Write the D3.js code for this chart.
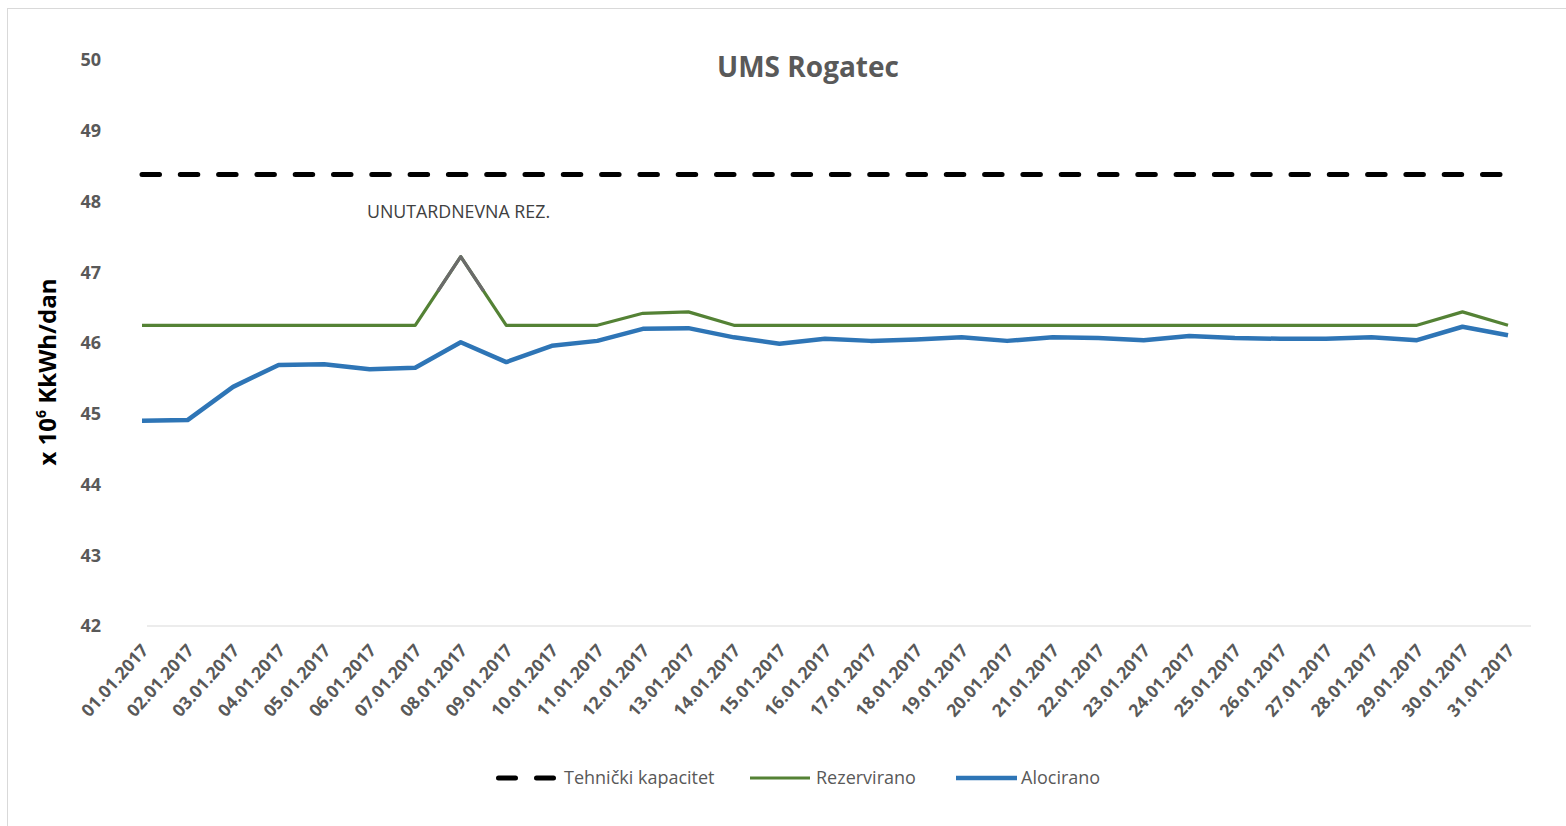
<!DOCTYPE html>
<html>
<head>
<meta charset="utf-8">
<script src="https://cdn.jsdelivr.net/npm/d3@7"></script>
<style>
  html, body { margin: 0; padding: 0; background: #fff; }
  svg { display: block; }
</style>
</head>
<body>
<svg id="chart" width="1566" height="826"></svg>
<script>
const dates = ["01.01.2017","02.01.2017","03.01.2017","04.01.2017","05.01.2017","06.01.2017","07.01.2017","08.01.2017","09.01.2017","10.01.2017","11.01.2017","12.01.2017","13.01.2017","14.01.2017","15.01.2017","16.01.2017","17.01.2017","18.01.2017","19.01.2017","20.01.2017","21.01.2017","22.01.2017","23.01.2017","24.01.2017","25.01.2017","26.01.2017","27.01.2017","28.01.2017","29.01.2017","30.01.2017","31.01.2017"];

const tehnickiKapacitet = [48.38,48.38,48.38,48.38,48.38,48.38,48.38,48.38,48.38,48.38,48.38,48.38,48.38,48.38,48.38,48.38,48.38,48.38,48.38,48.38,48.38,48.38,48.38,48.38,48.38,48.38,48.38,48.38,48.38,48.38,48.38];

const rezervirano = [46.25,46.25,46.25,46.25,46.25,46.25,46.25,47.22,46.25,46.25,46.25,46.42,46.44,46.25,46.25,46.25,46.25,46.25,46.25,46.25,46.25,46.25,46.25,46.25,46.25,46.25,46.25,46.25,46.25,46.44,46.25];

const alocirano = [44.90,44.91,45.38,45.69,45.70,45.63,45.65,46.01,45.73,45.96,46.03,46.20,46.21,46.08,45.99,46.06,46.03,46.05,46.08,46.03,46.08,46.07,46.04,46.10,46.07,46.06,46.06,46.08,46.04,46.23,46.11];

const yTicks = [42,43,44,45,46,47,48,49,50];

const seriesNames = ["Tehnički kapacitet","Rezervirano","Alocirano"];
const chartTitle = "UMS Rogatec";
const annotationText = "UNUTARDNEVNA REZ.";
const annotationIndex = 7;

const svg = d3.select("#chart");
const FONT = "'Open Sans', 'DejaVu Sans', sans-serif";

// border
svg.append("rect")
  .attr("x", 7.5).attr("y", 8.5)
  .attr("width", 1580).attr("height", 840)
  .attr("fill", "#fff").attr("stroke", "#d9d9d9").attr("stroke-width", 1);

const x = d3.scalePoint().domain(dates).range([142, 1508]);
const y = d3.scaleLinear().domain([42, 50]).range([626, 60]);

// baseline
svg.append("line")
  .attr("x1", 147).attr("x2", 1531)
  .attr("y1", y(42)).attr("y2", y(42))
  .attr("stroke", "#d9d9d9").attr("stroke-width", 1);

// y axis
const yAxis = d3.axisLeft(y).tickValues(yTicks).tickSize(0).tickPadding(0).tickFormat(d3.format("d"));
const yg = svg.append("g").attr("transform", "translate(101,0)").call(yAxis);
yg.select(".domain").remove();
yg.selectAll("text")
  .attr("font-family", FONT).attr("font-size", 18).attr("font-weight", "bold")
  .attr("fill", "#595959");

// x axis
const xAxis = d3.axisBottom(x).tickSize(0).tickPadding(0);
const xg = svg.append("g").attr("transform", "translate(0," + y(42) + ")").call(xAxis);
xg.select(".domain").remove();
xg.selectAll("text")
  .attr("font-family", FONT).attr("font-size", 17.5).attr("font-weight", "bold")
  .attr("fill", "#595959")
  .attr("text-anchor", "end")
  .attr("dy", null).attr("y", null)
  .attr("transform", "translate(7,25) rotate(-48)");

// y axis title
const yt = svg.append("text")
  .attr("transform", "translate(56,372) rotate(-90)")
  .attr("text-anchor", "middle")
  .attr("font-family", FONT).attr("font-size", 24).attr("font-weight", "bold")
  .attr("fill", "#000");
yt.append("tspan").text("x 10");
yt.append("tspan").attr("dy", -10).attr("font-size", 14).text("6");
yt.append("tspan").attr("dy", 10).text(" KkWh/dan");

// title
svg.append("text")
  .attr("x", 808).attr("y", 77)
  .attr("text-anchor", "middle")
  .attr("font-family", FONT).attr("font-size", 28).attr("font-weight", "bold")
  .attr("fill", "#595959")
  .text(chartTitle);

const line = d3.line().x((d, i) => x(dates[i])).y(d => y(d));

// Tehnički kapacitet
svg.append("path")
  .datum(tehnickiKapacitet)
  .attr("d", line)
  .attr("fill", "none").attr("stroke", "#000").attr("stroke-width", 5)
  .attr("stroke-linecap", "round")
  .attr("stroke-dasharray", "17.5 20.8");

// Rezervirano
svg.append("path")
  .datum(rezervirano)
  .attr("d", line)
  .attr("fill", "none").attr("stroke", "#548235").attr("stroke-width", 3.2)
  .attr("stroke-linejoin", "round");

// Alocirano
svg.append("path")
  .datum(alocirano)
  .attr("d", line)
  .attr("fill", "none").attr("stroke", "#2e75b6").attr("stroke-width", 4.5)
  .attr("stroke-linejoin", "round");

// gray overlay on the intraday reservation peak
const i0 = annotationIndex - 1, i1 = annotationIndex, i2 = annotationIndex + 1;
const t = 0.5;
const p0 = [x(dates[i0]) + t * (x(dates[i1]) - x(dates[i0])), y(rezervirano[i0] + t * (rezervirano[i1] - rezervirano[i0]))];
const p1 = [x(dates[i1]), y(rezervirano[i1])];
const p2 = [x(dates[i2]) - t * (x(dates[i2]) - x(dates[i1])), y(rezervirano[i2] + t * (rezervirano[i1] - rezervirano[i2]))];
svg.append("path")
  .attr("d", d3.line()([p0, p1, p2]))
  .attr("fill", "none").attr("stroke", "#6b6b6b").attr("stroke-width", 3.2)
  .attr("stroke-linejoin", "round");

// annotation
svg.append("text")
  .attr("x", 367).attr("y", 218)
  .attr("font-family", FONT).attr("font-size", 17.8)
  .attr("fill", "#404040")
  .text(annotationText);

// legend
const ly = 778;
const lg = svg.append("g");
lg.append("line")
  .attr("x1", 498.5).attr("x2", 553.5).attr("y1", ly).attr("y2", ly)
  .attr("stroke", "#000").attr("stroke-width", 5).attr("stroke-linecap", "round")
  .attr("stroke-dasharray", "17 21");
lg.append("text").attr("x", 564).attr("y", ly + 6)
  .attr("font-family", FONT).attr("font-size", 18).attr("fill", "#595959")
  .text(seriesNames[0]);
lg.append("line")
  .attr("x1", 750).attr("x2", 810).attr("y1", ly).attr("y2", ly)
  .attr("stroke", "#548235").attr("stroke-width", 3.2);
lg.append("text").attr("x", 816).attr("y", ly + 6)
  .attr("font-family", FONT).attr("font-size", 18).attr("fill", "#595959")
  .text(seriesNames[1]);
lg.append("line")
  .attr("x1", 956).attr("x2", 1017).attr("y1", ly).attr("y2", ly)
  .attr("stroke", "#2e75b6").attr("stroke-width", 4.5);
lg.append("text").attr("x", 1021).attr("y", ly + 6)
  .attr("font-family", FONT).attr("font-size", 18).attr("fill", "#595959")
  .text(seriesNames[2]);
</script>
</body>
</html>
